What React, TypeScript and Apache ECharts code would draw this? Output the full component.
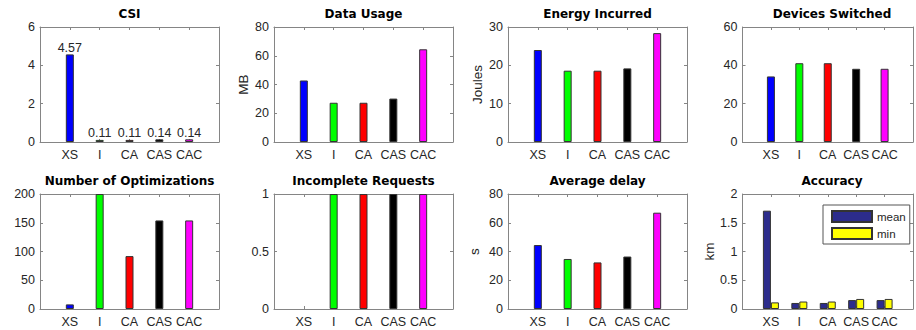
import React, { useEffect, useRef } from "react";
import * as echarts from "echarts";

// ---- data ----
const categories = ["XS", "I", "CA", "CAS", "CAC"];
const barColors = ["#0000ff", "#00ff00", "#ff0000", "#000000", "#ff00ff"];

const csi = [4.57, 0.11, 0.11, 0.14, 0.14];
const dataUsage = [42.8, 27.3, 27.3, 30.2, 64.5];
const energy = [24.0, 18.6, 18.6, 19.2, 28.4];
const devices = [34.2, 41.1, 41.1, 38.2, 38.2];
const optimizations = [8, 200, 92, 154, 154];
const incomplete = [0, 1, 1, 1, 1];
const delay = [44.5, 34.8, 32.4, 36.5, 67];
const accuracyMean = [1.71, 0.105, 0.105, 0.155, 0.155];
const accuracyMin = [0.115, 0.13, 0.13, 0.175, 0.175];

const titles = [
  "CSI",
  "Data Usage",
  "Energy Incurred",
  "Devices Switched",
  "Number of Optimizations",
  "Incomplete Requests",
  "Average delay",
  "Accuracy",
];
const yMax = [6, 80, 30, 60, 200, 1, 80, 2];
const yInterval = [2, 20, 10, 20, 50, 0.5, 20, 0.5];
const yNames = ["", "MB", "Joules", "", "", "", "s", "km"];
const singleSeries = [csi, dataUsage, energy, devices, optimizations, incomplete, delay];

// ---- layout / style ----
const GRID_LEFTS = [40, 274, 508, 742.5];
const GRID_TOPS = [27, 194];
const GRID_W = 179;
const GRID_H = 115;
const AXIS_COLOR = "#858585";
const TEXT_COLOR = "#262626";
const FONT = "'Liberation Sans', Arial, Helvetica, sans-serif";
const TITLE_FONT = "'DejaVu Sans', sans-serif";
const TICK_FONT_SIZE = 12.5;

function buildOption(): any {
  const grid: any[] = [];
  const xAxis: any[] = [];
  const yAxis: any[] = [];
  const title: any[] = [];
  const series: any[] = [];

  for (let i = 0; i < 8; i++) {
    const left = GRID_LEFTS[i % 4];
    const top = GRID_TOPS[Math.floor(i / 4)];
    grid.push({ left, top, width: GRID_W, height: GRID_H });
    title.push({
      text: titles[i],
      left: left + GRID_W / 2,
      top: top - 19,
      textAlign: "center",
      padding: 0,
      textStyle: { fontSize: 12, fontWeight: "bold", fontFamily: TITLE_FONT, color: "#000" },
    });
    const lineStyle = { color: AXIS_COLOR, width: 1 };
    const xBase = {
      type: "value",
      gridIndex: i,
      min: 0,
      max: 6,
      interval: 1,
      splitLine: { show: false },
      axisLine: { show: true, onZero: false, lineStyle },
      axisTick: { show: true, inside: true, length: 3, lineStyle },
    };
    xAxis.push({
      ...xBase,
      position: "bottom",
      axisLabel: {
        formatter: (v: number) => categories[Math.round(v) - 1] ?? "",
        color: TEXT_COLOR,
        fontSize: TICK_FONT_SIZE,
        fontFamily: FONT,
        margin: 6,
        hideOverlap: false,
      },
    });
    xAxis.push({ ...xBase, position: "top", axisLabel: { show: false } });

    const yBase = {
      type: "value",
      gridIndex: i,
      min: 0,
      max: yMax[i],
      interval: yInterval[i],
      splitLine: { show: false },
      axisLine: { show: true, onZero: false, lineStyle },
      axisTick: { show: true, inside: true, length: 3, lineStyle },
    };
    yAxis.push({
      ...yBase,
      position: "left",
      name: yNames[i],
      nameLocation: "middle",
      nameGap: i === 6 ? 27 : 24,
      nameRotate: 90,
      nameTextStyle: { color: TEXT_COLOR, fontSize: 13.5, fontFamily: FONT },
      axisLabel: { color: TEXT_COLOR, fontSize: TICK_FONT_SIZE, fontFamily: FONT, margin: 5 },
    });
    yAxis.push({ ...yBase, position: "right", axisLabel: { show: false } });

    if (i < 7) {
      const vals = singleSeries[i];
      series.push({
        type: "bar",
        xAxisIndex: 2 * i,
        yAxisIndex: 2 * i,
        barWidth: 8,
        itemStyle: { borderColor: "#333", borderWidth: 1 },
        data: vals.map((v, k) => ({
          value: [k + 1, v],
          itemStyle: { color: barColors[k], borderWidth: v > 0 ? 1 : 0, opacity: v > 0 ? 1 : 0 },
        })),
        label:
          i === 0
            ? {
                show: true,
                position: "top",
                distance: 0,
                color: TEXT_COLOR,
                fontSize: TICK_FONT_SIZE,
                fontFamily: FONT,
                formatter: (p: any) => Number(p.value[1]).toFixed(2),
              }
            : { show: false },
      });
    }
  }

  series.push({
    name: "mean",
    type: "bar",
    xAxisIndex: 14,
    yAxisIndex: 14,
    barWidth: 8,
    barGap: "0%",
    itemStyle: { color: "#2c2c8c", borderColor: "#333", borderWidth: 1 },
    data: accuracyMean.map((v, k) => [k + 1, v]),
  });
  series.push({
    name: "min",
    type: "bar",
    xAxisIndex: 14,
    yAxisIndex: 14,
    barWidth: 8,
    barGap: "0%",
    itemStyle: { color: "#ffff00", borderColor: "#333", borderWidth: 1 },
    data: accuracyMin.map((v, k) => [k + 1, v]),
  });

  return {
    animation: false,
    backgroundColor: "#fff",
    title,
    grid,
    xAxis,
    yAxis,
    series,
    legend: {
      data: ["mean", "min"],
      orient: "vertical",
      left: 823,
      top: 205,
      itemWidth: 40,
      itemHeight: 11,
      itemGap: 4,
      padding: [5, 4, 4, 8],
      icon: "rect",
      borderColor: "#555",
      borderWidth: 1,
      backgroundColor: "#fff",
      selectedMode: false,
      textStyle: { fontSize: 11.5, color: TEXT_COLOR, fontFamily: FONT },
    },
  };
}

export default function App() {
  const ref = useRef<HTMLDivElement>(null);
  useEffect(() => {
    if (!ref.current) return;
    const chart = echarts.init(ref.current, undefined, { renderer: "svg" });
    chart.setOption(buildOption());
    return () => chart.dispose();
  }, []);
  return (
    <div
      ref={ref}
      style={{ position: "absolute", left: 0, top: 0, width: 916, height: 330, background: "#fff" }}
    />
  );
}
